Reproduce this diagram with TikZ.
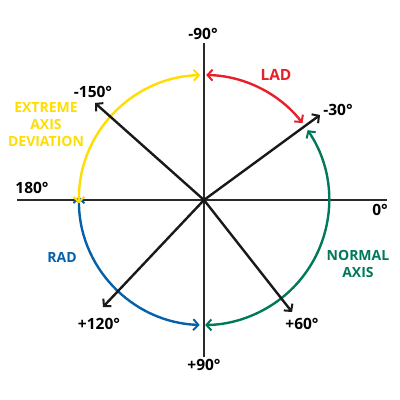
\documentclass[tikz,border=0pt]{standalone}
\usepackage{fontspec}
\setmainfont{Open Sans}
\usetikzlibrary{arrows.meta}
\definecolor{cred}{HTML}{E8202A}
\definecolor{cyel}{HTML}{FFDD00}
\definecolor{cgrn}{HTML}{00795B}
\definecolor{cblu}{HTML}{0560AC}
\definecolor{caxis}{HTML}{2A2A2A}
\begin{document}
\begin{tikzpicture}[x=1pt,y=1pt,
  axisline/.style={draw=caxis,line width=1.3pt},
  vec/.style={draw=black!90,line width=2.4pt,-{Straight Barb[length=5pt,width=11pt,line width=2pt]}},
  band/.style={line width=2.4pt,{Straight Barb[length=5pt,width=11pt,line width=2pt]}-{Straight Barb[length=5pt,width=11pt,line width=2pt]}},
  lbl/.style={font=\bfseries\fontsize{15.5}{15.5}\selectfont,inner sep=0pt},
  blbl/.style={lbl,align=center,font=\bfseries\fontsize{14}{17}\selectfont}]
\useasboundingbox (-204,-200) rectangle (196,200);
\coordinate (O) at (0,0);
\coordinate (axT) at (0,157);
\coordinate (axB) at (0,-157);
\coordinate (axL) at (-187,0);
\coordinate (axR) at (183,0);
\draw[axisline] (axT) -- (axB);
\draw[axisline] (axL) -- (axR);
% arcs
\coordinate (yS) at (91.8:125);
\coordinate (rS) at (89:125);
\coordinate (gS) at (34:125);
\coordinate (bS) at (178.5:125);
\draw[band,draw=cred] (rS) arc[start angle=89,end angle=38,radius=125];
\draw[band,draw=cgrn] (gS) arc[start angle=34,end angle=-89.5,radius=125];
\draw[band,draw=cblu] (bS) arc[start angle=178.5,end angle=268,radius=125];
\draw[band,draw=cyel] (yS) arc[start angle=91.8,end angle=181.5,radius=125];
% vectors
\coordinate (v30) at (116,85);
\coordinate (v150) at (-109,97);
\coordinate (v120) at (-101,-107);
\coordinate (v60) at (88,-112);
\draw[vec] (O) -- (v30);
\draw[vec] (O) -- (v150);
\draw[vec] (O) -- (v120);
\draw[vec] (O) -- (v60);
% labels
\node[lbl] (l90n) at (-1,166) {-90°};
\node[lbl,text=cred] (llad) at (72,125) {LAD};
\node[lbl] (l30n) at (134,90) {-30°};
\node[lbl] (l150n) at (-111,108) {-150°};
\node[blbl,text=cyel] (lext) at (-158,75) {EXTREME\\AXIS\\DEVIATION};
\node[lbl] (l180) at (-172,12) {180°};
\node[lbl] (l0) at (176,-10) {0°};
\node[lbl,text=cblu,font=\bfseries\fontsize{14}{14}\selectfont] (lrad) at (-142,-57) {RAD};
\node[lbl] (l120) at (-105,-124) {+120°};
\node[lbl] (l90p) at (0,-165) {+90°};
\node[lbl] (l60) at (98,-124) {+60°};
\node[blbl,text=cgrn] (lnorm) at (154,-64) {NORMAL\\AXIS};
\end{tikzpicture}
\end{document}
